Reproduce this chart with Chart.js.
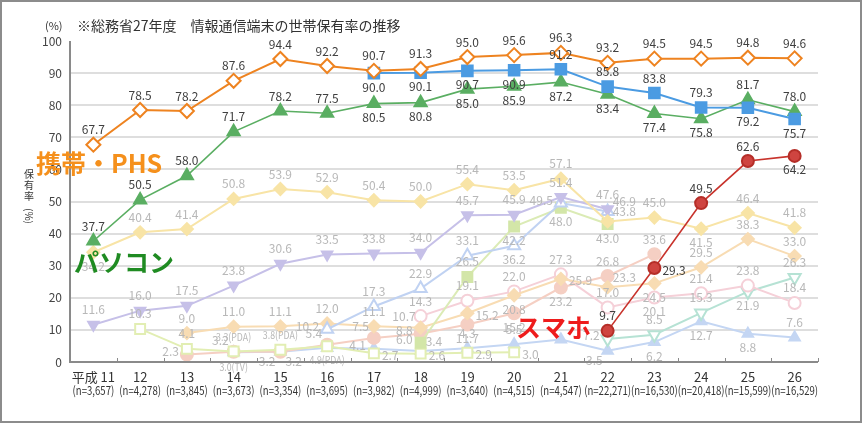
<!DOCTYPE html>
<html>
<head>
<meta charset="utf-8">
<script src="https://cdn.jsdelivr.net/npm/chart.js@4.4.0/dist/chart.umd.min.js"></script>
<style>
  html, body { margin: 0; padding: 0; background: #fff; }
  canvas { display: block; }
</style>
</head>
<body>
<canvas id="chart" width="863" height="423"></canvas>
<script>
// 年度と標本数
const years = ["平成 11", "12", "13", "14", "15", "16", "17", "18", "19", "20", "21", "22", "23", "24", "25", "26"];
const samples = ["(n=3,657)", "(n=4,278)", "(n=3,845)", "(n=3,673)", "(n=3,354)", "(n=3,695)", "(n=3,982)", "(n=4,999)",
  "(n=3,640)", "(n=4,515)", "(n=4,547)", "(n=22,271)", "(n=16,530)", "(n=20,418)", "(n=15,599)", "(n=16,529)"];
const yTicks = [0, 10, 20, 30, 40, 50, 60, 70, 80, 90, 100];

// 主な系列
const mobile = [67.7, 78.5, 78.2, 87.6, 94.4, 92.2, 90.7, 91.3, 95.0, 95.6, 96.3, 93.2, 94.5, 94.5, 94.8, 94.6];
const pc = [37.7, 50.5, 58.0, 71.7, 78.2, 77.5, 80.5, 80.8, 85.0, 85.9, 87.2, 83.4, 77.4, 75.8, 81.7, 78.0];
const fixedPhone = [null, null, null, null, null, null, 90.0, 90.1, 90.7, 90.9, 91.2, 85.8, 83.8, 79.3, 79.2, 75.7];
const smartphone = [null, null, null, null, null, null, null, null, null, null, null, 9.7, 29.3, 49.5, 62.6, 64.2];

// 薄い色の系列
const fax = [34.2, 40.4, 41.4, 50.8, 53.9, 52.9, 50.4, 50.0, 55.4, 53.5, 57.1, 43.8, 45.0, 41.5, 46.4, 41.8];
const purpleSeries = [11.6, 16.0, 17.5, 23.8, 30.6, 33.5, 33.8, 34.0, 45.7, 45.9, 51.4, 47.6, null, null, null, null];
const openTriSeries = [null, null, null, null, null, 10.2, 17.3, 22.9, 33.1, 36.2, 49.5, 46.9, null, null, null, null];
const limeSquare = [null, null, null, null, null, null, null, 6.0, 26.5, 42.2, 48.0, 43.0, null, null, null, null];
const openSquare = [null, 10.3, 4.1, 3.3, 3.8, 4.9, 2.7, 2.6, 2.9, 3.0, null, null, null, null, null, null];
const gameConsole = [null, null, 9.0, 11.0, 11.1, 12.0, 11.1, 10.7, 15.2, 20.8, 25.9, 23.3, 24.5, 29.5, 38.3, 33.0];
const salmonSeries = [null, null, 2.3, 3.2, 3.2, 5.4, 7.5, 8.8, 11.7, 15.2, 23.2, 26.8, 33.6, null, null, null];
const pinkSeries = [null, null, null, null, null, null, null, 14.3, 19.1, 22.0, 27.3, 17.0, 20.1, 21.4, 23.8, 18.4];
const tablet = [null, null, null, null, null, null, null, null, null, null, null, 7.2, 8.5, 15.3, 21.9, 26.3];
const lightTri = [null, null, null, 3.0, 3.2, 4.4, 4.1, 3.4, 4.3, 5.5, 7.0, 3.5, 6.2, 12.7, 8.8, 7.6];

const FONT = "'Noto Sans CJK JP', 'Noto Sans', sans-serif";
const DARK = "#404040";
const PALE = "#b8b8b8";

// ラベル位置: t=上 b=下 l=左 r=右 tl/tr/bl/br, n=なし
const OFF = {
  t: [0, -15, "center"], b: [0, 14, "center"], l: [-8, -3, "right"], r: [8, 2, "left"],
  tl: [-5, -11, "right"], tr: [5, -10, "left"], bl: [-5, 10, "right"], br: [5, 10, "left"]
};

function line(label, data, color, style, opts) {
  return Object.assign({
    label: label,
    data: data,
    borderColor: color,
    backgroundColor: color,
    pointBackgroundColor: color,
    pointBorderColor: color,
    pointStyle: style,
    pointRadius: 6,
    pointBorderWidth: 2,
    borderWidth: 2,
    tension: 0,
    spanGaps: false,
    lblColor: PALE,
    order: 10
  }, opts || {});
}

const datasets = [
  line("携帯・PHS", mobile, "#ee8320", "rectRot", {
    pointBackgroundColor: "#fff", pointRadius: 7, order: 1, lblColor: DARK,
    lp: Array(16).fill("t")
  }),
  line("固定電話", fixedPhone, "#4b9be2", "rect", {
    pointRadius: 7.5, order: 2, lblColor: DARK,
    lp: ["n", "n", "n", "n", "n", "n", "b", "b", "b", "b", "t", "t", "t", "t", "b", "b"]
  }),
  line("パソコン", pc, "#5aae62", "triangle", {
    pointRadius: 7, borderWidth: 1.6, order: 3, lblColor: DARK,
    lp: ["t", "t", "t", "t", "t", "t", "b", "b", "b", "b", "b", "b", "b", "b", "t", "t"]
  }),
  line("スマホ", smartphone, "#c8332c", "circle", {
    pointBackgroundColor: "#cf4440", pointBorderColor: "#b52e28", borderWidth: 1.6, order: 0, lblColor: DARK,
    lp: ["n", "n", "n", "n", "n", "n", "n", "n", "n", "n", "n", "t", "r", "t", "t", "b"]
  }),
  line("FAX", fax, "#f8e4a6", "rectRot", {
    lp: ["b", "t", "t", "t", "t", "t", "t", "t", "t", "t", "t", "tr", "t", "b", "t", "t"]
  }),
  line("purple", purpleSeries, "#c6c0e8", "triangle", {
    rotation: 180, lp: Array(16).fill("t")
  }),
  line("openTri", openTriSeries, "#c0d2f2", "triangle", {
    pointBackgroundColor: "#fff", pointRadius: 7,
    lp: ["n", "n", "n", "n", "n", "l", "t", "t", "t", "b", "l", "tr", "n", "n", "n", "n"]
  }),
  line("limeSquare", limeSquare, "#dbebb5", "rect", {
    pointRadius: 7, pointBackgroundColor: "#d3e6a8", pointBorderColor: "#d3e6a8",
    lp: ["n", "n", "n", "n", "n", "n", "n", "l", "t", "b", "b", "b", "n", "n", "n", "n"]
  }),
  line("openSquare", openSquare, "#e2eeb3", "rect", {
    pointRadius: 7, pointBackgroundColor: "#fff",
    lp: ["n", "t", "t", "t", "t", "b", "r", "r", "r", "r", "n", "n", "n", "n", "n", "n"],
    suffix: [null, null, null, "(PDA)", "(PDA)", "(PDA)"]
  }),
  line("game", gameConsole, "#f8dcb3", "rectRot", {
    lp: ["n", "n", "t", "t", "t", "t", "t", "tl", "r", "b", "r", "tr", "b", "t", "t", "t"]
  }),
  line("salmon", salmonSeries, "#f5cfc3", "circle", {
    lp: ["n", "n", "l", "tl", "bl", "tl", "tl", "l", "b", "b", "b", "t", "t", "n", "n", "n"]
  }),
  line("pink", pinkSeries, "#f5d0d8", "circle", {
    pointBackgroundColor: "#fff",
    lp: ["n", "n", "n", "n", "n", "n", "n", "t", "t", "t", "t", "t", "b", "t", "t", "t"]
  }),
  line("tablet", tablet, "#b6e2d4", "triangle", {
    rotation: 180, pointBackgroundColor: "#fff", pointRadius: 7,
    lp: ["n", "n", "n", "n", "n", "n", "n", "n", "n", "n", "n", "l", "t", "t", "b", "t"]
  }),
  line("lightTri", lightTri, "#c4d6f3", "triangle", {
    lp: ["n", "n", "n", "b", "br", "n", "l", "tr", "t", "t", "n", "bl", "b", "b", "b", "t"],
    suffix: [null, null, null, "(TV)"]
  })
];

// 値ラベル
const valueLabels = {
  id: "valueLabels",
  afterDatasetsDraw(chart) {
    const ctx = chart.ctx;
    ctx.save();
    ctx.textBaseline = "middle";
    chart.data.datasets.forEach((ds, i) => {
      const meta = chart.getDatasetMeta(i);
      meta.data.forEach((pt, j) => {
        const v = ds.data[j];
        if (v == null) return;
        const pos = ds.lp ? ds.lp[j] : "t";
        if (!pos || pos === "n") return;
        const o = OFF[pos];
        const suf = ds.suffix && ds.suffix[j] ? ds.suffix[j] : "";
        ctx.fillStyle = ds.lblColor;
        ctx.textAlign = o[2];
        if (suf) {
          ctx.save();
          ctx.translate(pt.x + o[0], pt.y + o[1]);
          ctx.scale(0.8, 1);
          ctx.font = "11px " + FONT;
          ctx.fillText(v.toFixed(1) + suf, 0, 0);
          ctx.restore();
        } else {
          ctx.font = "12px " + FONT;
          ctx.fillText(v.toFixed(1), pt.x + o[0], pt.y + o[1]);
        }
      });
    });
    ctx.restore();
  }
};

// 枠・軸・見出し・注記
const decorations = {
  id: "decorations",
  beforeDraw(chart) {
    const ctx = chart.ctx;
    ctx.save();
    ctx.fillStyle = "#fff";
    ctx.fillRect(0, 0, chart.width, chart.height);
    ctx.restore();
  },
  afterDraw(chart) {
    const ctx = chart.ctx;
    const a = chart.chartArea;
    const xs = chart.scales.x;
    ctx.save();
    // 軸線
    ctx.strokeStyle = "#8a8a8a";
    ctx.lineWidth = 2;
    ctx.beginPath();
    ctx.moveTo(a.left, a.top);
    ctx.lineTo(a.left, a.bottom);
    ctx.lineTo(a.right, a.bottom);
    ctx.stroke();
    ctx.lineWidth = 1;
    const step = (a.right - a.left) / years.length;
    for (let k = 1; k <= years.length; k++) {
      const x = Math.round(a.left + step * k) + 0.5;
      ctx.beginPath();
      ctx.moveTo(x, a.bottom - 4);
      ctx.lineTo(x, a.bottom);
      ctx.stroke();
    }
    // x軸ラベル
    ctx.fillStyle = "#333";
    ctx.textAlign = "center";
    ctx.textBaseline = "middle";
    years.forEach((y, i) => {
      const x = xs.getPixelForValue(i);
      ctx.font = "13px " + FONT;
      ctx.fillText(y, x, a.bottom + 15);
      ctx.save();
      ctx.translate(x, a.bottom + 28);
      ctx.scale(0.8, 1);
      ctx.font = "12px " + FONT;
      ctx.fillText(samples[i], 0, 0);
      ctx.restore();
    });
    // 見出し
    ctx.textAlign = "left";
    ctx.font = "11px " + FONT;
    ctx.fillText("(%)", 45, 26);
    ctx.font = "14px " + FONT;
    ctx.fillText("※総務省27年度　情報通信端末の世帯保有率の推移", 77, 26);
    // 縦軸タイトル
    ctx.font = "10px " + FONT;
    ctx.textAlign = "center";
    ["保", "有", "率"].forEach((c, i) => ctx.fillText(c, 29, 174 + i * 11));
    ctx.save();
    ctx.translate(29, 216);
    ctx.rotate(Math.PI / 2);
    ctx.fillText("(%)", 0, 0);
    ctx.restore();
    // 注記
    ctx.font = "bold 25px " + FONT;
    ctx.textAlign = "left";
    ctx.fillStyle = "#f5901c";
    ctx.fillText("携帯・PHS", 36, 163);
    ctx.fillStyle = "#1f8b22";
    ctx.fillText("パソコン", 74, 262);
    ctx.fillStyle = "#ee1c1c";
    ctx.fillText("スマホ", 516, 327);
    // 外枠
    ctx.strokeStyle = "#8c8c8c";
    ctx.lineWidth = 2;
    ctx.strokeRect(1, 1, chart.width - 3, chart.height - 2);
    ctx.restore();
  }
};

new Chart(document.getElementById("chart"), {
  type: "line",
  data: { labels: years, datasets: datasets },
  options: {
    responsive: false,
    animation: false,
    devicePixelRatio: 1,
    layout: { padding: { left: 0, right: 45, top: 41, bottom: 0 } },
    plugins: { legend: { display: false }, tooltip: { enabled: false } },
    scales: {
      x: {
        type: "category",
        offset: true,
        grid: { display: false },
        border: { display: false },
        ticks: { display: false },
        afterFit: (s) => { s.height = 61; }
      },
      y: {
        min: 0,
        max: 100,
        afterBuildTicks: (s) => { s.ticks = yTicks.map(v => ({ value: v })); },
        grid: {
          drawTicks: false,
          lineWidth: 2,
          color: (c) => (c.tick && (c.tick.value === 0 || c.tick.value === 100)) ? "rgba(0,0,0,0)" : "#dedede"
        },
        border: { display: false },
        ticks: { padding: 8, color: "#444", font: { family: FONT, size: 12 } },
        afterFit: (s) => { s.width = 70; }
      }
    }
  },
  plugins: [valueLabels, decorations]
});
</script>
</body>
</html>
